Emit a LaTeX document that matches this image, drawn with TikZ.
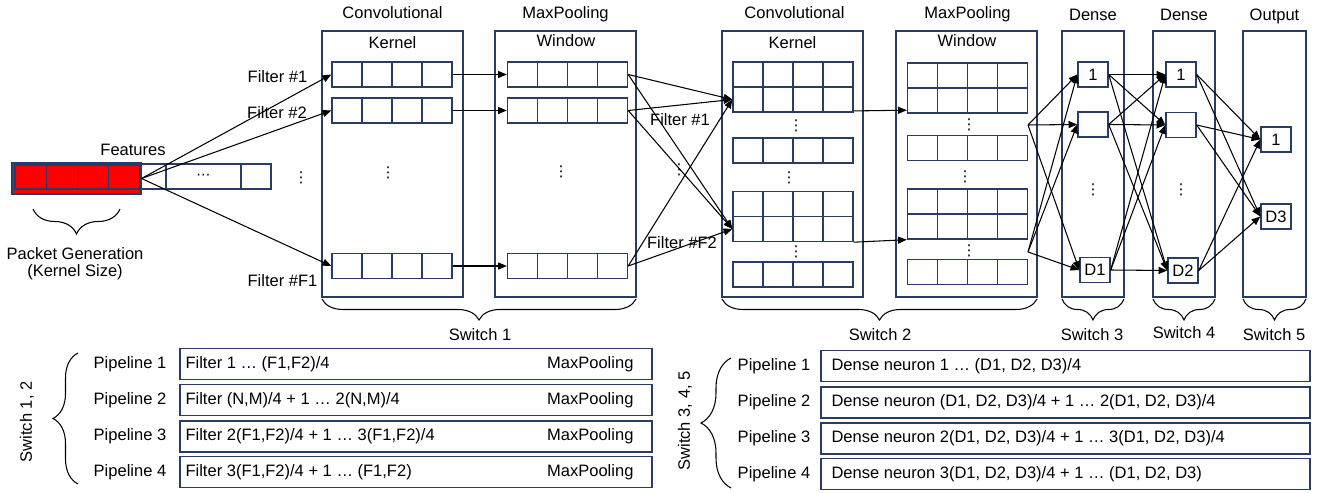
\documentclass[tikz,border=0pt]{standalone}
\usepackage{fontspec}
\setmainfont{Liberation Sans}
\newfontfamily\dotfont{DejaVu Sans}
\usetikzlibrary{arrows.meta, positioning, decorations.pathreplacing}
\definecolor{boxblue}{RGB}{40,60,100}

\begin{document}
\begin{tikzpicture}[
    x=0.02cm, y=-0.02cm,
    font=\fontsize{9.4}{11}\selectfont,
    layer/.style={draw=boxblue,line width=0.8pt,minimum height=5.32cm,inner sep=0pt},
    cellrow/.style={draw=boxblue,line width=0.8pt,minimum width=2.4cm,minimum height=0.5cm,inner sep=0pt,
      path picture={\foreach \k in {1,2,3}
        \draw[boxblue,line width=0.8pt] ([xshift=\k*0.6cm]path picture bounding box.north west) -- ([xshift=\k*0.6cm]path picture bounding box.south west);}},
    cellrow2/.style={draw=boxblue,line width=0.8pt,minimum width=2.4cm,minimum height=1cm,inner sep=0pt,
      path picture={\foreach \k in {1,2,3}
        \draw[boxblue,line width=0.8pt] ([xshift=\k*0.6cm]path picture bounding box.north west) -- ([xshift=\k*0.6cm]path picture bounding box.south west);
        \draw[boxblue,line width=0.8pt] (path picture bounding box.west) -- (path picture bounding box.east);}},
    feat/.style={draw=boxblue,line width=0.8pt,minimum height=0.5cm,inner sep=0pt},
    neuron/.style={draw=boxblue,line width=0.8pt,fill=white,minimum width=0.6cm,minimum height=0.5cm,inner sep=0pt},
    pipe/.style={draw=boxblue,line width=0.8pt,minimum height=0.62cm,inner sep=0pt},
    conn/.style={-{Triangle[length=5pt,width=4pt]},line width=0.6pt},
    brc/.style={decorate,decoration={brace,amplitude=#1},line width=0.6pt},
    brcm/.style={decorate,decoration={brace,mirror,amplitude=#1},line width=0.6pt},
    vdot/.style={font=\dotfont\fontsize{8.5}{9}\selectfont,inner sep=0pt}
  ]
    \useasboundingbox (0,0) rectangle (1323,493);

    % input features
    \node[draw=boxblue,line width=0.6pt,fill=red,minimum width=2.58cm,minimum height=0.62cm,inner sep=0pt] (inp) at (76.5,178.5) {};
    \foreach \i in {0,...,3}
      \node[feat,minimum width=0.625cm,minimum height=0.48cm] at (30.6+\i*31.25,177) {};
    \node[feat,minimum width=0.5cm] (feat1) at (153.5,176.5) {};
    \node[feat,minimum width=1.5cm,font=\dotfont\fontsize{8}{9}\selectfont] (feat2) at (203.5,176.5) {⋯};
    \node[feat,minimum width=0.6cm] (feat3) at (256,176.5) {};
    \node[vdot] at (301,178) {⋮};
    \node (featlbl) at (133,150) {Features};
    \draw[brcm=0.5cm] (33,209) -- (120,209);
    \node[align=center,font=\fontsize{9.4}{9.8}\selectfont] (pktlbl) at (75,264) {Packet Generation\\(Kernel Size)};

    % layers
    \node[layer,minimum width=2.82cm] (conv1) at (392.5,164) {};
    \node[layer,minimum width=2.82cm] (pool1) at (565.5,164) {};
    \node[layer,minimum width=2.82cm] (conv2) at (792.5,164) {};
    \node[layer,minimum width=2.82cm] (pool2) at (966.5,164) {};
    \node[layer,minimum width=1.24cm] (dense1) at (1093,164) {};
    \node[layer,minimum width=1.24cm] (dense2) at (1184,164) {};
    \node[layer,minimum width=1.26cm] (outl) at (1274.5,164) {};
    \node[anchor=base] at (392.5,18.5) {Convolutional};
    \node[anchor=base] at (565.5,18.5) {MaxPooling};
    \node[anchor=base] at (794.5,18.5) {Convolutional};
    \node[anchor=base] at (967.5,18.5) {MaxPooling};
    \node[anchor=base] at (1093,20.5) {Dense};
    \node[anchor=base] at (1184,20.5) {Dense};
    \node[anchor=base] at (1274.5,20.5) {Output};
    \node[anchor=base] at (392.5,49) {Kernel};
    \node[anchor=base] at (566,46.5) {Window};
    \node[anchor=base] at (792.5,49) {Kernel};
    \node[anchor=base] at (967,46.5) {Window};

    % first switch rows
    \node[cellrow] (c1r1) at (392,74.5) {};
    \node[cellrow] (c1r2) at (392,110.5) {};
    \node[cellrow] (c1r3) at (392,266) {};
    \node[vdot] at (388,173) {⋮};
    \node[cellrow] (p1r1) at (567.5,74.5) {};
    \node[cellrow] (p1r2) at (567.5,110.5) {};
    \node[cellrow] (p1r3) at (567.5,266) {};
    \node[vdot] at (561,172) {⋮};

    % second switch rows
    \node[cellrow2] (c2r1) at (793,87) {};
    \node[cellrow] (c2r2) at (793,150.5) {};
    \node[cellrow2] (c2r3) at (793,216.5) {};
    \node[cellrow] (c2r4) at (793,274.5) {};
    \node[vdot] at (796,126) {⋮};
    \node[vdot] at (789,178) {⋮};
    \node[vdot] at (796,252) {⋮};
    \node[cellrow2] (p2r1) at (967.5,88) {};
    \node[cellrow] (p2r2) at (967.5,148) {};
    \node[cellrow2] (p2r3) at (967.5,214) {};
    \node[cellrow] (p2r4) at (967.5,272) {};
    \node[vdot] at (969,125) {⋮};
    \node[vdot] at (965,177) {⋮};
    \node[vdot] at (969,251) {⋮};
    \coordinate (p2o1) at (1028,125);
    \coordinate (p2o2) at (1028,252);

    % neurons
    \node[neuron] (n1a) at (1093,74.5) {1};
    \node[neuron] (n1b) at (1093,124.5) {};
    \node[neuron] (n1c) at (1095,270) {D1};
    \node[vdot] at (1093,190) {⋮};
    \node[neuron] (n2a) at (1181,74.5) {1};
    \node[neuron] (n2b) at (1181,125) {};
    \node[neuron] (n2c) at (1183,270.5) {D2};
    \node[vdot] at (1181,190) {⋮};
    \node[neuron] (n3a) at (1276,139.5) {1};
    \node[neuron] (n3b) at (1276,216.5) {D3};

    % connections
    \foreach \r in {1,2,3} {
      \draw[conn] (inp.east) -- (c1r\r.west);
      \draw[conn] (c1r\r.east) -- (p1r\r.west);
      \draw[conn] (p1r\r.east) -- ([yshift=-0.25cm]c2r1.west);
      \draw[conn] (p1r\r.east) -- ([yshift=-0.25cm]c2r3.west);
    }
    \draw[conn] ([yshift=1pt]c2r1.south east) -- ([yshift=2pt]p2r1.south west);
    \draw[conn] (c2r3.south east) -- (p2r3.south west);
    \foreach \s in {p2o1,p2o2}
      \foreach \t in {n1a,n1b,n1c}
        \draw[conn] (\s) -- (\t.west);
    \foreach \s in {n1a,n1b,n1c}
      \foreach \t in {n2a,n2b,n2c}
        \draw[conn] (\s.east) -- (\t.west);
    \foreach \s in {n2a,n2b,n2c}
      \foreach \t in {n3a,n3b}
        \draw[conn] (\s.east) -- (\t.west);

    % filter labels
    \node (flt1) at (277.5,77) {Filter \#1};
    \node (flt2) at (277,113) {Filter \#2};
    \node (fltf1) at (282.5,281) {Filter \#F1};
    \node (flt21) at (680,120) {Filter \#1};
    \node[vdot] at (679,170) {⋮};
    \node (flt2f2) at (682,243) {Filter \#F2};

    % switches
    \draw[brcm=0.42cm] (322,299) -- (636,299);
    \draw[brcm=0.42cm] (722,299) -- (1037,299);
    \draw[brcm=0.42cm] (1062,299) -- (1124,299);
    \draw[brcm=0.42cm] (1153,299) -- (1215,299);
    \draw[brcm=0.42cm] (1243,299) -- (1306,299);
    \node (sw1) at (480,335) {Switch 1};
    \node (sw2) at (880,335) {Switch 2};
    \node (sw3) at (1092,335) {Switch 3};
    \node (sw4) at (1184,333) {Switch 4};
    \node (sw5) at (1274,335) {Switch 5};

    % pipelines, switch 1, 2
    \node[rotate=90] (sw12) at (27,422) {Switch 1, 2};
    \draw[brc=0.5cm] (78,484) -- (78,353);
    \foreach \i/\yy/\txt in {1/364/{Filter 1 … (F1,F2)/4},
        2/400/{Filter (N,M)/4 + 1 … 2(N,M)/4},
        3/436.5/{Filter 2(F1,F2)/4 + 1 … 3(F1,F2)/4},
        4/472/{Filter 3(F1,F2)/4 + 1 … (F1,F2)}} {
      \node (lpl\i) at (130,\yy) {Pipeline \i};
      \node[pipe,minimum width=9.44cm] (lp\i) at (416,\yy) {};
      \node[anchor=west] at (lp\i.west) {\txt};
      \node[anchor=east] at ([xshift=-0.26cm]lp\i.east) {MaxPooling};
    }

    % pipelines, switch 3, 4, 5
    \node[rotate=90] (sw345) at (685,421) {Switch 3, 4, 5};
    \draw[brc=0.6cm] (731,488) -- (731,358);
    \foreach \i/\yy/\txt in {1/366/{Dense neuron 1 … (D1, D2, D3)/4},
        2/402.5/{Dense neuron (D1, D2, D3)/4 + 1 … 2(D1, D2, D3)/4},
        3/438.5/{Dense neuron 2(D1, D2, D3)/4 + 1 … 3(D1, D2, D3)/4},
        4/474/{Dense neuron 3(D1, D2, D3)/4 + 1 … (D1, D2, D3)}} {
      \node (rpl\i) at (774,\yy) {Pipeline \i};
      \node[pipe,minimum width=9.78cm] (rp\i) at (1065.5,\yy) {};
      \node[anchor=west] at ([xshift=0.1cm]rp\i.west) {\txt};
    }
  \end{tikzpicture}
\end{document}
